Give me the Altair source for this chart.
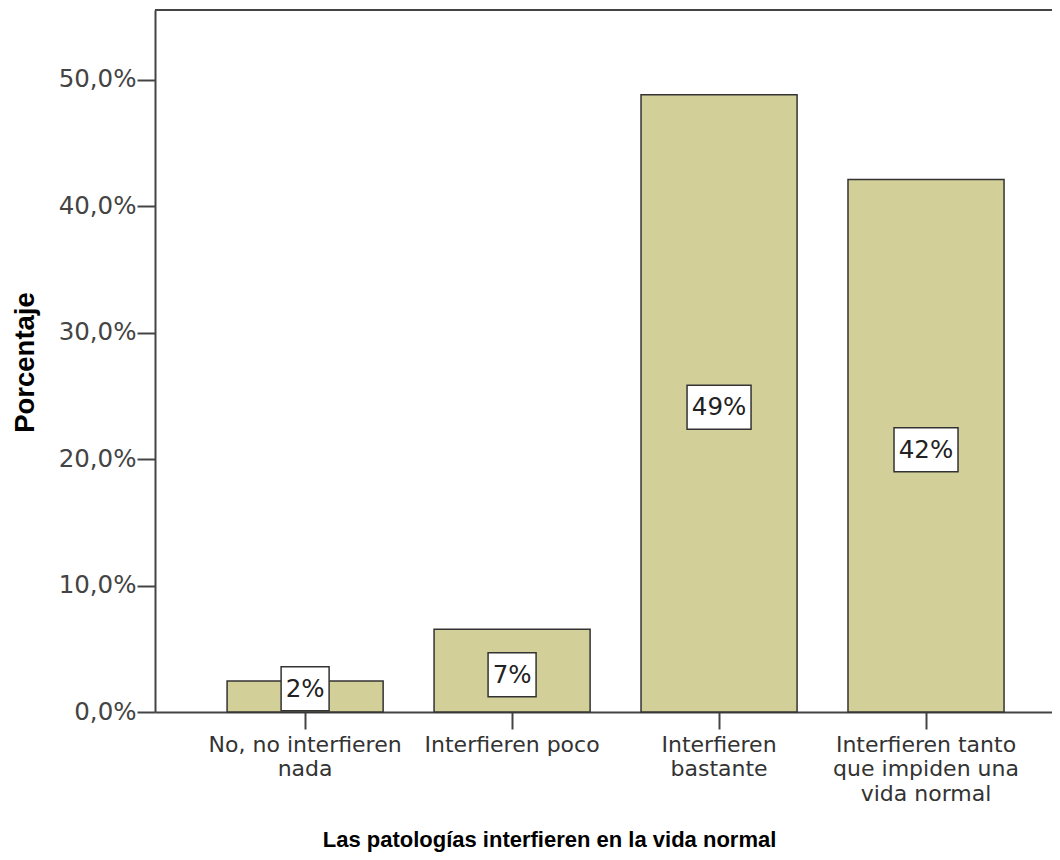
import altair as alt
import pandas as pd

categories = [
    "No, no interfieren\nnada",
    "Interfieren poco",
    "Interfieren\nbastante",
    "Interfieren tanto\nque impiden una\nvida normal",
]
values = [2.45, 6.54, 48.8, 42.1]
labels = ["2%", "7%", "49%", "42%"]
y_ticks = [0, 10, 20, 30, 40, 50]

box_kind = ["short" if len(s) <= 2 else "long" for s in labels]
df = pd.DataFrame({"cat": categories, "value": values, "label": labels, "kind": box_kind})
# label centred in bar, kept clear of the axis for small bars
df["pos"] = [max(v / 2, 2.15) for v in values]

FONT = "Liberation Sans"
LFONT = "DejaVu Sans"
BAR = "#d3cf98"

x_enc = alt.X(
    "cat:N",
    sort=categories,
    scale=alt.Scale(paddingInner=0.246, paddingOuter=0.29, align=0.6005),
    axis=alt.Axis(
        title="Las patologías interfieren en la vida normal",
        titleFont=FONT, titleFontSize=22, titleFontWeight="bold", titleColor="#000000",
        titleX=394, titleY=134, titleAlign="center", titleBaseline="alphabetic",
        labelExpr="split(datum.label, '\\n')",
        labelFont=LFONT, labelFontSize=22, labelColor="#333333", labelAngle=0,
        labelLineHeight=24.5, labelPadding=5, labelBaseline="top",
        tickSize=17, tickColor="#444444", tickWidth=2,
        domainColor="#444444", domainWidth=2,
        labelLimit=400,
    ),
)
y_scale = alt.Scale(domain=[0, 55.5], nice=False)

bars = alt.Chart(df).mark_bar(color=BAR, stroke="#333333", strokeWidth=1.5).encode(
    x=x_enc,
    y=alt.Y(
        "value:Q",
        scale=y_scale,
        axis=alt.Axis(
            title="Porcentaje",
            titleFont=FONT, titleFontSize=27.5, titleFontWeight="bold", titleColor="#000000",
            titleX=-122, titleY=352, titleAlign="center", titleBaseline="alphabetic",
            values=y_ticks,
            labelExpr="replace(format(datum.value, '.1f'), '.', ',') + '%'",
            labelFont=LFONT, labelFontSize=24.5, labelColor="#444444", labelPadding=1,
            tickSize=18, tickColor="#444444", tickWidth=2,
            domainColor="#444444", domainWidth=2, grid=False,
        ),
    ),
)

short_box = "M-0.75,-0.6875L0.75,-0.6875L0.75,0.6875L-0.75,0.6875Z"
long_box = "M-1,-0.6875L1,-0.6875L1,0.6875L-1,0.6875Z"

boxes = alt.Chart(df).mark_point(
    filled=True, fill="#ffffff", stroke="#333333", strokeWidth=1.5, opacity=1, yOffset=4
).encode(
    x=alt.X("cat:N", sort=categories),
    y=alt.Y("pos:Q", scale=y_scale),
    shape=alt.Shape("kind:N", scale=alt.Scale(domain=["short", "long"], range=[short_box, long_box]), legend=None),
    size=alt.value(4096),
)

texts = alt.Chart(df).mark_text(
    font=LFONT, fontSize=24.5, color="#222222", baseline="middle", align="center", yOffset=5
).encode(
    x=alt.X("cat:N", sort=categories),
    y=alt.Y("pos:Q", scale=y_scale),
    text="label:N",
)

top_line = alt.Chart(df).mark_rule(color="#444444", strokeWidth=2).encode(y=alt.value(0))

chart = alt.layer(bars, top_line, boxes, texts).properties(
    width=897,
    height=702,
    autosize=alt.AutoSizeParams(type="none"),
    padding={"left": 147, "top": 2, "right": 0, "bottom": 140},
).configure_view(fill="#f0f0f0", stroke=None).configure(background="#ffffff")

chart.save("out.html", embed_options={"renderer": "svg", "actions": False})
